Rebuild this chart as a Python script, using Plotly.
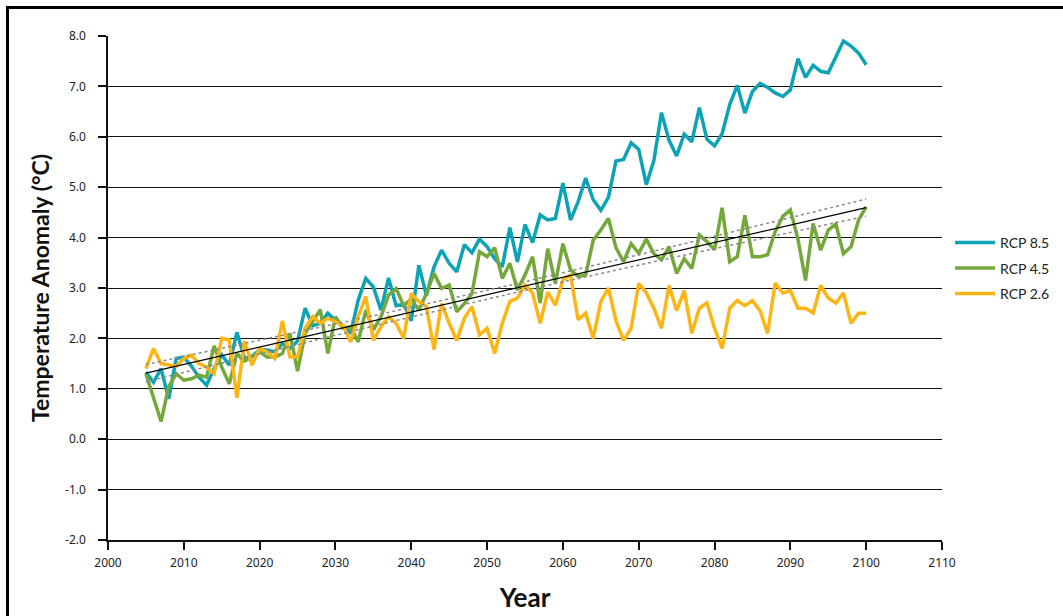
import numpy as np
import plotly.graph_objects as go

years = list(range(2005, 2101))

rcp85 = [1.33, 1.13, 1.40, 0.80, 1.60, 1.63, 1.45, 1.23, 1.07, 1.40,
         1.67, 1.47, 2.12, 1.60, 1.65, 1.77, 1.77, 1.73, 1.90, 1.80,
         1.95, 2.60, 2.25, 2.30, 2.50, 2.35, 2.25, 2.10, 2.76, 3.19,
         3.02, 2.56, 3.20, 2.65, 2.68, 2.35, 3.45, 2.85, 3.42, 3.75,
         3.49, 3.32, 3.86, 3.70, 3.97, 3.82, 3.58, 3.42, 4.20, 3.52,
         4.26, 3.90, 4.45, 4.35, 4.38, 5.08, 4.35, 4.71, 5.18, 4.75,
         4.54, 4.80, 5.52, 5.55, 5.88, 5.75, 5.05, 5.53, 6.48, 5.93,
         5.62, 6.05, 5.90, 6.58, 5.95, 5.82, 6.06, 6.64, 7.02, 6.47,
         6.90, 7.06, 6.98, 6.87, 6.80, 6.93, 7.55, 7.18, 7.42, 7.30,
         7.27, 7.60, 7.90, 7.80, 7.66, 7.43]

rcp45 = [1.30, 0.82, 0.35, 1.04, 1.30, 1.17, 1.20, 1.27, 1.23, 1.85,
         1.43, 1.10, 1.70, 1.55, 1.63, 1.73, 1.63, 1.63, 1.70, 2.10,
         1.35, 2.10, 2.35, 2.57, 1.70, 2.43, 2.20, 2.23, 1.93, 2.56,
         2.17, 2.43, 2.86, 2.99, 2.65, 2.78, 2.56, 2.89, 3.29, 2.99,
         3.06, 2.53, 2.69, 2.89, 3.72, 3.62, 3.80, 3.19, 3.49, 2.96,
         3.26, 3.62, 2.70, 3.78, 3.09, 3.88, 3.36, 3.23, 3.26, 3.95,
         4.15, 4.38, 3.80, 3.52, 3.88, 3.69, 3.97, 3.68, 3.56, 3.82,
         3.29, 3.58, 3.39, 4.05, 3.92, 3.76, 4.59, 3.52, 3.62, 4.44,
         3.62, 3.62, 3.66, 4.12, 4.42, 4.55, 3.97, 3.15, 4.28, 3.75,
         4.15, 4.27, 3.68, 3.82, 4.35, 4.61]

rcp26 = [1.40, 1.80, 1.50, 1.47, 1.45, 1.60, 1.67, 1.50, 1.43, 1.30,
         2.00, 1.97, 0.82, 1.95, 1.47, 1.80, 1.73, 1.60, 2.35, 1.63,
         1.63, 2.20, 2.43, 2.30, 2.40, 2.33, 2.26, 1.93, 2.43, 2.83,
         1.96, 2.23, 2.43, 2.30, 2.00, 2.89, 2.73, 2.63, 1.78, 2.69,
         2.30, 1.96, 2.40, 2.63, 2.07, 2.20, 1.70, 2.30, 2.73, 2.80,
         3.06, 2.90, 2.30, 2.92, 2.66, 3.16, 3.26, 2.37, 2.50, 2.00,
         2.73, 3.00, 2.35, 1.96, 2.20, 3.09, 2.90, 2.60, 2.20, 3.05,
         2.55, 2.95, 2.10, 2.60, 2.70, 2.20, 1.80, 2.60, 2.75, 2.65,
         2.75, 2.55, 2.10, 3.10, 2.90, 2.95, 2.60, 2.60, 2.50, 3.05,
         2.80, 2.70, 2.90, 2.30, 2.50, 2.50]

series_names = ["RCP 8.5", "RCP 4.5", "RCP 2.6"]
series_colors = ["#0DA3B6", "#74A83A", "#FDB515"]

y_tick_vals = [-2, -1, 0, 1, 2, 3, 4, 5, 6, 7, 8]
y_tick_text = ["-2.0", "-1.0", "0.0", "1.0", "2.0", "3.0", "4.0", "5.0", "6.0", "7.0", "8.0"]

# linear trend of RCP 4.5 with 95% confidence band of the fitted line
x = np.array(years, dtype=float)
yv = np.array(rcp45)
slope, icpt = np.polyfit(x, yv, 1)
fit = slope * x + icpt
resid = yv - fit
n = len(x)
s = np.sqrt(np.sum(resid ** 2) / (n - 2))
sxx = np.sum((x - x.mean()) ** 2)
se = s * np.sqrt(1.0 / n + (x - x.mean()) ** 2 / sxx)
upper = fit + 1.985 * se
lower = fit - 1.985 * se

fig = go.Figure()
legends = ["legend", "legend2", "legend3"]
for name, vals, col, lg in zip(series_names, [rcp85, rcp45, rcp26], series_colors, legends):
    fig.add_trace(go.Scatter(x=years, y=vals, mode="lines", name=name,
                             line=dict(color=col, width=3.5), legend=lg))

fig.add_trace(go.Scatter(x=years, y=upper, mode="lines", showlegend=False,
                         line=dict(color="#8A8A8A", width=1.5, dash="dot")))
fig.add_trace(go.Scatter(x=years, y=lower, mode="lines", showlegend=False,
                         line=dict(color="#8A8A8A", width=1.5, dash="dot")))
fig.add_trace(go.Scatter(x=years, y=fit, mode="lines", showlegend=False,
                         line=dict(color="#000000", width=1.2)))

tick_font = dict(family="Noto Sans, Lato, sans-serif", size=12, color="#222222")
title_font = dict(family="Lato, Noto Sans, sans-serif", size=23, color="#111111", weight="bold")
leg_font = dict(family="Lato, Noto Sans, sans-serif", size=14, color="#222222")

leg_common = dict(x=(950 - 108) / 834, xanchor="left", yanchor="middle",
                  font=leg_font, bgcolor="rgba(0,0,0,0)", itemwidth=40)

fig.update_layout(
    width=1063, height=616,
    margin=dict(l=108, r=121, t=36, b=76, autoexpand=False),
    paper_bgcolor="white", plot_bgcolor="white",
    xaxis=dict(range=[2000, 2110], tickmode="linear", tick0=2000, dtick=10,
               showgrid=False, zeroline=False, showline=True, linecolor="#111111",
               linewidth=1.5, ticks="outside", ticklen=8, tickwidth=1.5,
               tickcolor="#111111", tickfont=tick_font, ticklabelstandoff=3,
               automargin=False,
               title=dict(text="Year", font=dict(family="Lato, Noto Sans, sans-serif",
                                                 size=26, color="#111111", weight="bold"),
                          standoff=19)),
    yaxis=dict(range=[-2, 8], tickmode="array", tickvals=y_tick_vals, ticktext=y_tick_text,
               showgrid=True, gridcolor="#111111", gridwidth=1.3, zeroline=False,
               showline=True, linecolor="#111111", linewidth=1.5, ticks="outside",
               ticklen=8, tickwidth=1.5, tickcolor="#111111", tickfont=tick_font,
               ticklabelstandoff=10, automargin=False,
               title=dict(text="Temperature Anomaly (°C)", font=title_font, standoff=9)),
    showlegend=True,
    legend=dict(y=(540 - 243) / 504, **leg_common),
    legend2=dict(y=(540 - 268.5) / 504, **leg_common),
    legend3=dict(y=(540 - 294) / 504, **leg_common),
    shapes=[dict(type="rect", xref="paper", yref="paper",
                 x0=(7.5 - 108) / 834, x1=(1075 - 108) / 834,
                 y0=-(630 - 540) / 504, y1=1 + (36 - 7.5) / 504,
                 line=dict(color="#000000", width=3), fillcolor="rgba(0,0,0,0)",
                 layer="above")],
)

fig.write_html("out.html")
